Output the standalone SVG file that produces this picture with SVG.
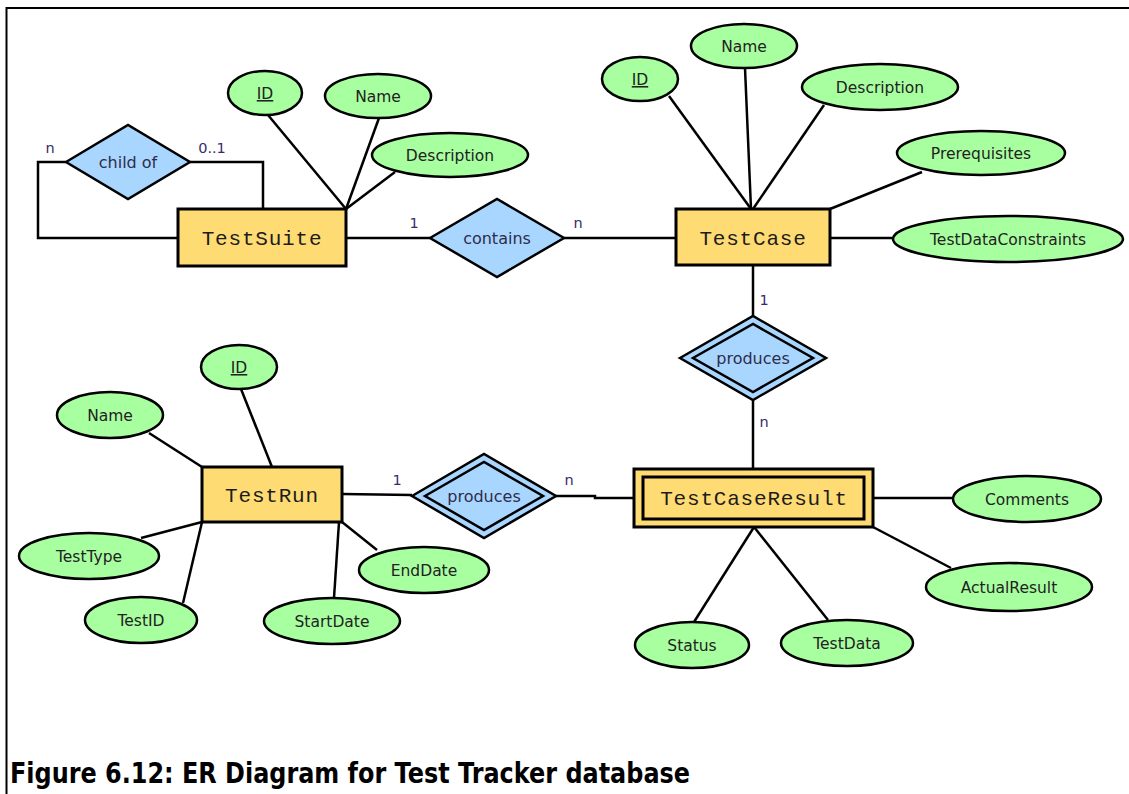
<svg xmlns="http://www.w3.org/2000/svg" width="1129" height="794" viewBox="0 0 1129 794">
  <style>
    .frame { fill: none; stroke: #000; stroke-width: 2; }
    .link { fill: none; stroke: #000; stroke-width: 2.5; stroke-linejoin: miter; }
    .entity { fill: #FFDB73; stroke: #000; stroke-width: 3; }
    .inner { fill: none; stroke: #000; stroke-width: 3; }
    .rel { fill: #A9D6FF; stroke: #000; stroke-width: 2.5; stroke-linejoin: miter; }
    .rel-inner { fill: none; stroke: #000; stroke-width: 2.5; stroke-linejoin: miter; }
    .attr { fill: #A8FFA0; stroke: #000; stroke-width: 2.5; }
    .etext { font-family: "Liberation Mono", "Courier New", monospace; font-size: 21px; letter-spacing: 0.8px; fill: #1c1c1c; text-anchor: middle; }
    .atext { font-family: "DejaVu Sans", Verdana, sans-serif; font-size: 15.5px; fill: #222; text-anchor: middle; }
    .rtext { font-family: "DejaVu Sans", Verdana, sans-serif; font-size: 16px; fill: #2e2c4c; text-anchor: middle; }
    .card { font-family: "DejaVu Sans", Verdana, sans-serif; font-size: 14.5px; fill: #3b2a6b; text-anchor: middle; }
    .caption { font-family: "DejaVu Sans", Verdana, sans-serif; font-weight: bold; font-size: 28px; fill: #000; }
  </style>

  <rect x="0" y="0" width="1129" height="794" fill="#fff"/>
  <!-- page frame: top and left rules -->
  <polyline class="frame" points="1129,8 6.5,8 6.5,794"/>

  <!-- connectors -->
  <g id="connectors">
    <polyline class="link" points="66,162 38,162 38,238 178,238"/>
    <polyline class="link" points="190,162 263,162 263,209"/>
    <line class="link" x1="346" y1="209" x2="268" y2="115"/>
    <line class="link" x1="346" y1="209" x2="379" y2="118"/>
    <line class="link" x1="346" y1="209" x2="395" y2="172"/>
    <line class="link" x1="346" y1="238" x2="430" y2="238"/>
    <line class="link" x1="564" y1="238" x2="676" y2="238"/>
    <line class="link" x1="751" y1="209" x2="669" y2="96"/>
    <line class="link" x1="751" y1="209" x2="745" y2="68"/>
    <line class="link" x1="753" y1="209" x2="824" y2="105"/>
    <line class="link" x1="830" y1="209" x2="922" y2="172"/>
    <line class="link" x1="830" y1="238" x2="893" y2="238"/>
    <line class="link" x1="753" y1="265" x2="753" y2="316"/>
    <line class="link" x1="753" y1="400" x2="753" y2="469"/>
    <line class="link" x1="272" y1="467" x2="241" y2="389"/>
    <line class="link" x1="202" y1="467" x2="149" y2="433"/>
    <line class="link" x1="202" y1="522" x2="141" y2="538"/>
    <line class="link" x1="202" y1="522" x2="183" y2="603"/>
    <line class="link" x1="339" y1="522" x2="334" y2="598"/>
    <line class="link" x1="342" y1="522" x2="377" y2="550"/>
    <line class="link" x1="342" y1="494" x2="412" y2="495"/>
    <polyline class="link" points="556,496 595,496 595,498 634,498"/>
    <line class="link" x1="873" y1="498" x2="953" y2="498"/>
    <line class="link" x1="873" y1="527" x2="951" y2="568"/>
    <line class="link" x1="754" y1="527" x2="694" y2="622"/>
    <line class="link" x1="754" y1="527" x2="828" y2="620"/>
  </g>

  <!-- cardinalities -->
  <g id="cardinalities">
    <text class="card" x="50" y="153">n</text>
    <text class="card" x="212" y="153">0..1</text>
    <text class="card" x="414" y="228">1</text>
    <text class="card" x="578" y="228">n</text>
    <text class="card" x="764" y="305">1</text>
    <text class="card" x="764" y="427">n</text>
    <text class="card" x="397" y="485">1</text>
    <text class="card" x="569" y="485">n</text>
  </g>

  <!-- relationships -->
  <g id="rel-child-of">
    <polygon class="rel" points="66,162 128,125 190,162 128,199"/>
    <text class="rtext" x="128" y="168">child of</text>
  </g>
  <g id="rel-contains">
    <polygon class="rel" points="430,238 497,199 564,238 497,277"/>
    <text class="rtext" x="497" y="244">contains</text>
  </g>
  <g id="rel-produces-case">
    <polygon class="rel" points="680,358 753,316 826,358 753,400"/>
    <polygon class="rel-inner" points="693,358 753,324 813,358 753,392"/>
    <text class="rtext" x="753" y="364">produces</text>
  </g>
  <g id="rel-produces-run">
    <polygon class="rel" points="412,496 484,454 556,496 484,538"/>
    <polygon class="rel-inner" points="425,496 484,462 543,496 484,530"/>
    <text class="rtext" x="484" y="502">produces</text>
  </g>

  <!-- entities -->
  <g id="TestSuite">
    <rect class="entity" x="178" y="209" width="168" height="57"/>
    <text class="etext" x="262" y="245">TestSuite</text>
  </g>
  <g id="TestCase">
    <rect class="entity" x="676" y="209" width="154" height="56"/>
    <text class="etext" x="753" y="245">TestCase</text>
  </g>
  <g id="TestRun">
    <rect class="entity" x="202" y="467" width="140" height="55"/>
    <text class="etext" x="272" y="502">TestRun</text>
  </g>
  <g id="TestCaseResult">
    <rect class="entity" x="634" y="469" width="239" height="58"/>
    <rect class="inner" x="643" y="477" width="221" height="42"/>
    <text class="etext" x="754" y="505">TestCaseResult</text>
  </g>

  <!-- TestSuite attributes -->
  <g id="ts-id">
    <ellipse class="attr" cx="265" cy="93" rx="37" ry="22"/>
    <text class="atext" x="265" y="99" text-decoration="underline">ID</text>
  </g>
  <g id="ts-name">
    <ellipse class="attr" cx="378" cy="96" rx="53" ry="22"/>
    <text class="atext" x="378" y="102">Name</text>
  </g>
  <g id="ts-description">
    <ellipse class="attr" cx="450" cy="155" rx="78" ry="22"/>
    <text class="atext" x="450" y="161">Description</text>
  </g>

  <!-- TestCase attributes -->
  <g id="tc-id">
    <ellipse class="attr" cx="640" cy="79" rx="38" ry="22"/>
    <text class="atext" x="640" y="85" text-decoration="underline">ID</text>
  </g>
  <g id="tc-name">
    <ellipse class="attr" cx="744" cy="46" rx="53" ry="22"/>
    <text class="atext" x="744" y="52">Name</text>
  </g>
  <g id="tc-description">
    <ellipse class="attr" cx="880" cy="87" rx="78" ry="23"/>
    <text class="atext" x="880" y="93">Description</text>
  </g>
  <g id="tc-prerequisites">
    <ellipse class="attr" cx="981" cy="153" rx="84" ry="22"/>
    <text class="atext" x="981" y="159">Prerequisites</text>
  </g>
  <g id="tc-testdataconstraints">
    <ellipse class="attr" cx="1008" cy="239" rx="115" ry="23"/>
    <text class="atext" x="1008" y="245">TestDataConstraints</text>
  </g>

  <!-- TestRun attributes -->
  <g id="tr-id">
    <ellipse class="attr" cx="239" cy="367" rx="38" ry="22"/>
    <text class="atext" x="239" y="373" text-decoration="underline">ID</text>
  </g>
  <g id="tr-name">
    <ellipse class="attr" cx="110" cy="415" rx="53" ry="23"/>
    <text class="atext" x="110" y="421">Name</text>
  </g>
  <g id="tr-testtype">
    <ellipse class="attr" cx="89" cy="556" rx="70" ry="23"/>
    <text class="atext" x="89" y="562">TestType</text>
  </g>
  <g id="tr-testid">
    <ellipse class="attr" cx="141" cy="620" rx="56" ry="23"/>
    <text class="atext" x="141" y="626">TestID</text>
  </g>
  <g id="tr-startdate">
    <ellipse class="attr" cx="332" cy="621" rx="68" ry="23"/>
    <text class="atext" x="332" y="627">StartDate</text>
  </g>
  <g id="tr-enddate">
    <ellipse class="attr" cx="424" cy="570" rx="65" ry="23"/>
    <text class="atext" x="424" y="576">EndDate</text>
  </g>

  <!-- TestCaseResult attributes -->
  <g id="tcr-comments">
    <ellipse class="attr" cx="1027" cy="499" rx="74" ry="23"/>
    <text class="atext" x="1027" y="505">Comments</text>
  </g>
  <g id="tcr-actualresult">
    <ellipse class="attr" cx="1009" cy="587" rx="83" ry="24"/>
    <text class="atext" x="1009" y="593">ActualResult</text>
  </g>
  <g id="tcr-status">
    <ellipse class="attr" cx="692" cy="645" rx="57" ry="23"/>
    <text class="atext" x="692" y="651">Status</text>
  </g>
  <g id="tcr-testdata">
    <ellipse class="attr" cx="847" cy="643" rx="66" ry="23"/>
    <text class="atext" x="847" y="649">TestData</text>
  </g>

  <!-- caption -->
  <text class="caption" x="10" y="783" textLength="680" lengthAdjust="spacingAndGlyphs">Figure 6.12: ER Diagram for Test Tracker database</text>
</svg>
